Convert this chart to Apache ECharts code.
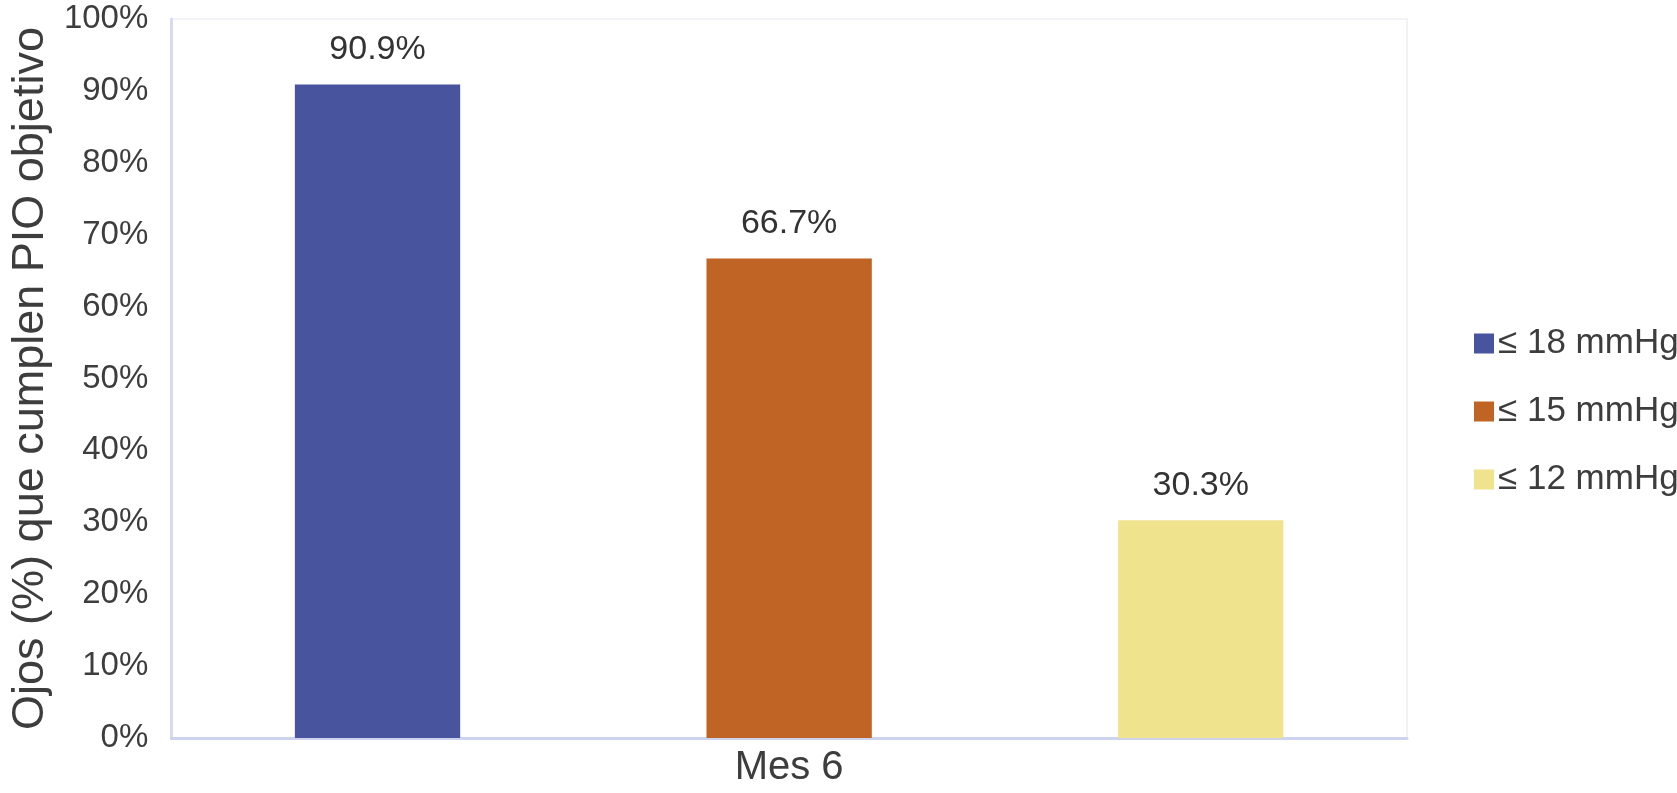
<!DOCTYPE html>
<html><head><meta charset="utf-8">
<script src="https://cdn.jsdelivr.net/npm/echarts@6/dist/echarts.min.js"></script>
<style>html,body{margin:0;padding:0;background:#fff}#c{width:1677px;height:793px}</style>
</head><body><div id="c"></div>
<script>
const categories = ["Mes 6"];
const seriesNames = ["\u2264 18 mmHg", "\u2264 15 mmHg", "\u2264 12 mmHg"];
const seriesValues = [[90.9], [66.7], [30.3]];
const seriesColors = ["#48549E", "#BF6425", "#F0E38E"];
const yTicks = [0, 10, 20, 30, 40, 50, 60, 70, 80, 90, 100];
const yAxisTitle = "Ojos (%) que cumplen PIO objetivo";

const font = "Liberation Sans, Arial, Helvetica, sans-serif";
const chart = echarts.init(document.getElementById('c'));
chart.setOption({
  animation: false,
  backgroundColor: '#fff',
  grid: { left: 168, right: 270, top: 19, bottom: 55, show: true, borderColor: '#EEF0F8', borderWidth: 1.5 },
  legend: {
    orient: 'vertical', left: 1469, top: 321,
    itemWidth: 20, itemHeight: 20, itemGap: 33,
    icon: 'rect',
    textStyle: { fontFamily: font, fontSize: 35, color: '#3d3d3d', padding: [0,0,0,-1] },
    data: seriesNames
  },
  xAxis: {
    type: 'category', data: categories,
    axisLine: { show: true, lineStyle: { color: '#CDD3EE', width: 3 } },
    axisTick: { show: false },
    axisLabel: { fontFamily: font, fontSize: 40, color: '#3d3d3d', margin: 10 }
  },
  yAxis: {
    type: 'value', min: 0, max: 100, interval: 10,
    name: yAxisTitle, nameLocation: 'middle', nameGap: 116,
    nameTextStyle: { fontFamily: font, fontSize: 45, color: '#3d3d3d' },
    axisLine: { show: true, lineStyle: { color: '#D6DBF0', width: 3 } },
    axisTick: { show: false },
    splitLine: { show: false },
    axisLabel: { fontFamily: font, fontSize: 33, color: '#3d3d3d', margin: 23,
      formatter: v => yTicks.includes(v) ? v + '%' : '' }
  },
  series: seriesNames.map((n, i) => ({
    name: n, type: 'bar', data: seriesValues[i],
    itemStyle: { color: seriesColors[i] },
    barGap: '149%', barCategoryGap: '20%',
    label: { show: true, position: 'top', distance: 18, fontFamily: font, fontSize: 34, color: '#333',
      formatter: p => p.value.toFixed(1) + '%' }
  }))
});
</script></body></html>
